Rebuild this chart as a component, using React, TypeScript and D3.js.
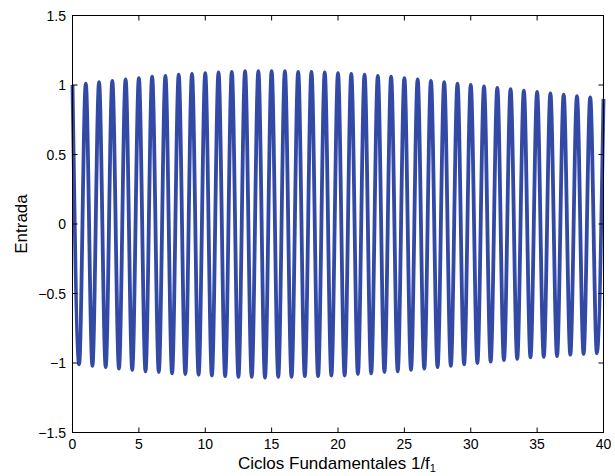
import React from "react";
import * as d3 from "d3";

// Peak values at integer cycles x = 0..40
const peakValues = [
  1.0, 1.01, 1.02, 1.03, 1.04, 1.05, 1.06, 1.065, 1.075, 1.08,
  1.085, 1.09, 1.095, 1.1, 1.1, 1.1, 1.1, 1.095, 1.095, 1.09,
  1.085, 1.08, 1.075, 1.065, 1.06, 1.05, 1.04, 1.03, 1.02, 1.01,
  1.0, 0.99, 0.98, 0.97, 0.96, 0.95, 0.94, 0.93, 0.92, 0.91, 0.9,
];
// Trough values at half cycles x = 0.5..39.5
const troughValues = [
  -1.01, -1.02, -1.03, -1.04, -1.05, -1.06, -1.065, -1.075, -1.08, -1.085,
  -1.09, -1.095, -1.1, -1.1, -1.105, -1.1, -1.1, -1.095, -1.095, -1.09,
  -1.09, -1.08, -1.075, -1.065, -1.06, -1.05, -1.04, -1.03, -1.02, -1.01,
  -1.0, -0.99, -0.98, -0.97, -0.96, -0.955, -0.95, -0.94, -0.935, -0.93,
];
const xTicks = [0, 5, 10, 15, 20, 25, 30, 35, 40];
const yTicks = [-1.5, -1, -0.5, 0, 0.5, 1, 1.5];

const W = 615;
const H = 476;
const L = 72.5;
const R = 603.5;
const T = 15.5;
const B = 432.5;

export default function App() {
  const x = d3.scaleLinear().domain([0, 40]).range([L, R]);
  const y = d3.scaleLinear().domain([-1.5, 1.5]).range([B, T]);

  const pts: [number, number][] = [];
  peakValues.forEach((p, i) => {
    pts.push([i, p]);
    if (i < troughValues.length) pts.push([i + 0.5, troughValues[i]]);
  });

  const line = d3
    .line<[number, number]>()
    .x((d) => x(d[0]))
    .y((d) => y(d[1]))
    .curve(d3.curveMonotoneX);

  const fmt = (v: number) => (v < 0 ? "\u2212" + String(-v) : String(v));
  const font = "'Liberation Sans', Arial, Helvetica, sans-serif";
  const tickLen = 5;

  return (
    <svg
      width={W}
      height={H}
      style={{ position: "fixed", left: 0, top: 0, background: "#fff" }}
      fontFamily={font}
    >
      <rect x={0} y={0} width={W} height={H} fill="#fff" />
      <path
        d={line(pts) || ""}
        fill="none"
        stroke="#3349a6"
        strokeWidth={3.8}
        strokeLinejoin="round"
      />
      {/* box */}
      <rect x={L} y={T} width={R - L} height={B - T} fill="none" stroke="#000" strokeWidth={1} />
      {xTicks.map((t) => (
        <g key={"x" + t}>
          <line x1={x(t)} x2={x(t)} y1={B} y2={B - tickLen} stroke="#000" />
          <line x1={x(t)} x2={x(t)} y1={T} y2={T + tickLen} stroke="#000" />
          <text x={x(t)} y={449} textAnchor="middle" fontSize={14} fill="#000">
            {fmt(t)}
          </text>
        </g>
      ))}
      {yTicks.map((t) => (
        <g key={"y" + t}>
          <line x1={L} x2={L + tickLen} y1={y(t)} y2={y(t)} stroke="#000" />
          <line x1={R} x2={R - tickLen} y1={y(t)} y2={y(t)} stroke="#000" />
          <text x={66} y={y(t) + 5} textAnchor="end" fontSize={14} fill="#000">
            {fmt(t)}
          </text>
        </g>
      ))}
      <text x={337} y={469} textAnchor="middle" fontSize={17} fill="#000">
        Ciclos Fundamentales 1/f
        <tspan fontSize={11} dy={3}>1</tspan>
      </text>
      <text
        transform={`translate(27, ${(T + B) / 2}) rotate(-90)`}
        textAnchor="middle"
        fontSize={17}
        fill="#000"
      >
        Entrada
      </text>
    </svg>
  );
}
